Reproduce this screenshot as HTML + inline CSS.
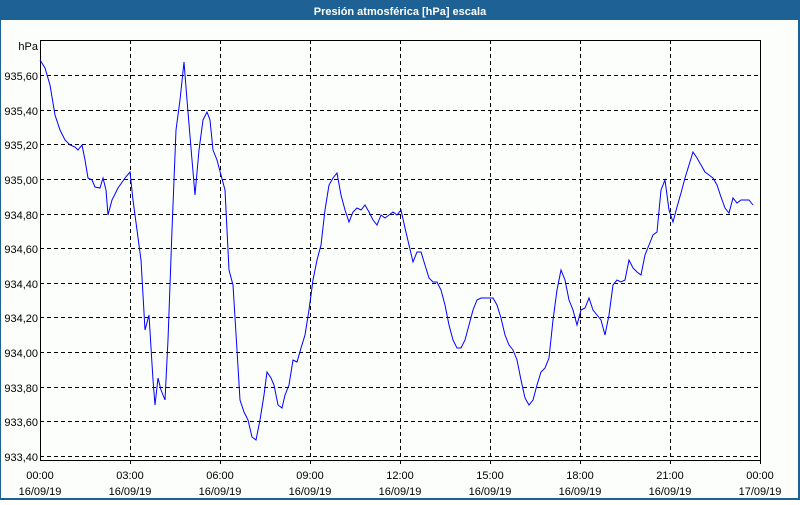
<!DOCTYPE html>
<html><head><meta charset="utf-8"><style>
body{margin:0;width:800px;height:500px;overflow:hidden;background:#fff;font-family:"Liberation Sans",sans-serif;}
</style></head><body>
<svg width="800" height="500" xmlns="http://www.w3.org/2000/svg" font-family="Liberation Sans, sans-serif" font-size="11">
<rect x="0" y="0" width="800" height="500" fill="#1d6195"/>
<rect x="1" y="20" width="797" height="478" fill="#fcfefc"/>
<text x="400" y="15" fill="#fff" font-weight="bold" text-anchor="middle">Presión atmosférica [hPa] escala</text>
<g stroke="#000" stroke-dasharray="4,3" stroke-width="1">
<line x1="40" x2="760" y1="456.5" y2="456.5"/><line x1="40" x2="760" y1="421.5" y2="421.5"/><line x1="40" x2="760" y1="387.5" y2="387.5"/><line x1="40" x2="760" y1="352.5" y2="352.5"/><line x1="40" x2="760" y1="317.5" y2="317.5"/><line x1="40" x2="760" y1="283.5" y2="283.5"/><line x1="40" x2="760" y1="248.5" y2="248.5"/><line x1="40" x2="760" y1="214.5" y2="214.5"/><line x1="40" x2="760" y1="179.5" y2="179.5"/><line x1="40" x2="760" y1="144.5" y2="144.5"/><line x1="40" x2="760" y1="110.5" y2="110.5"/><line x1="40" x2="760" y1="75.5" y2="75.5"/>
<line y1="40" y2="460" x1="130.5" x2="130.5"/><line y1="40" y2="460" x1="220.5" x2="220.5"/><line y1="40" y2="460" x1="310.5" x2="310.5"/><line y1="40" y2="460" x1="400.5" x2="400.5"/><line y1="40" y2="460" x1="490.5" x2="490.5"/><line y1="40" y2="460" x1="580.5" x2="580.5"/><line y1="40" y2="460" x1="670.5" x2="670.5"/>
</g>
<rect x="40.5" y="40.5" width="720" height="420" fill="none" stroke="#000"/>
<g stroke="#000"><line x1="130.5" x2="130.5" y1="460" y2="464"/><line x1="220.5" x2="220.5" y1="460" y2="464"/><line x1="310.5" x2="310.5" y1="460" y2="464"/><line x1="400.5" x2="400.5" y1="460" y2="464"/><line x1="490.5" x2="490.5" y1="460" y2="464"/><line x1="580.5" x2="580.5" y1="460" y2="464"/><line x1="670.5" x2="670.5" y1="460" y2="464"/><line x1="760.5" x2="760.5" y1="460" y2="464"/></g>
<g text-anchor="end" fill="#000">
<text x="38" y="50">hPa</text>
<text x="38" y="80">935,60</text><text x="38" y="115">935,40</text><text x="38" y="149">935,20</text><text x="38" y="184">935,00</text><text x="38" y="219">934,80</text><text x="38" y="253">934,60</text><text x="38" y="288">934,40</text><text x="38" y="322">934,20</text><text x="38" y="357">934,00</text><text x="38" y="392">933,80</text><text x="38" y="426">933,60</text><text x="38" y="461">933,40</text>
</g>
<g text-anchor="middle" fill="#000">
<text x="40" y="479">00:00</text><text x="40" y="495">16/09/19</text>
<text x="130" y="479">03:00</text><text x="130" y="495">16/09/19</text>
<text x="220" y="479">06:00</text><text x="220" y="495">16/09/19</text>
<text x="310" y="479">09:00</text><text x="310" y="495">16/09/19</text>
<text x="400" y="479">12:00</text><text x="400" y="495">16/09/19</text>
<text x="490" y="479">15:00</text><text x="490" y="495">16/09/19</text>
<text x="580" y="479">18:00</text><text x="580" y="495">16/09/19</text>
<text x="670" y="479">21:00</text><text x="670" y="495">16/09/19</text>
<text x="760" y="479">00:00</text><text x="760" y="495">17/09/19</text>
</g>
<polyline fill="none" stroke="#0000ff" stroke-width="1" points="40,60 45,68 50,85 55,115 60,130 65,140 70,145 75,147 78,150 82,145 85,160 88,178 92,180 95,187 100,188 103,178 106,190 108,215 112,200 118,188 125,178 130,172 133,200 137,230 141,260 145,330 149,315 153,380 155,405 158,378 161,390 165,400 168,340 172,230 176,130 180,100 184,62 187,100 192,160 195,195 199,150 203,120 207,112 210,120 213,150 217,160 221,175 225,190 229,270 233,285 237,350 240,400 244,412 248,420 252,437 256,440 260,420 264,395 267,372 271,378 274,385 278,405 282,408 285,395 289,385 293,360 297,362 301,348 305,335 309,310 313,280 317,260 321,245 325,210 329,185 333,178 337,173 341,195 345,210 349,222 353,212 357,208 361,210 365,205 369,212 373,220 377,225 381,215 385,218 389,215 393,212 397,215 401,210 405,228 409,245 413,262 417,252 421,252 425,265 429,278 433,282 437,282 441,290 445,305 449,325 453,340 457,348 461,348 465,340 469,325 473,310 477,300 481,298 485,298 489,298 493,298 497,305 501,318 505,335 509,345 513,350 517,360 521,380 525,398 529,405 533,400 537,385 541,372 545,368 549,358 553,320 557,290 561,270 565,280 569,300 573,310 577,325 581,310 585,308 589,298 593,310 597,315 601,320 605,335 609,315 613,285 617,280 621,282 625,280 629,260 633,268 637,272 641,275 645,255 649,245 653,235 657,232 661,190 665,180 669,210 673,222 677,207 681,193 685,178 689,165 693,152 697,158 701,165 705,172 709,175 713,178 717,185 721,197 725,208 729,213 733,198 737,203 741,200 745,200 749,200 753,205"/>
</svg>
</body></html>
